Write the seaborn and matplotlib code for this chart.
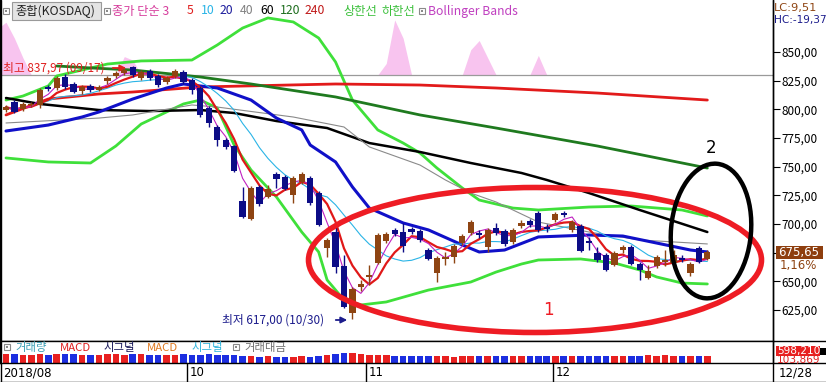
import numpy as np
import pandas as pd
import matplotlib
matplotlib.use("Agg")
import matplotlib.pyplot as plt
import seaborn as sns
from matplotlib.patches import Ellipse, Rectangle, FancyArrowPatch
from matplotlib.lines import Line2D
from matplotlib.transforms import IdentityTransform

# ---------------- data (KOSDAQ daily, 2018-08-27 .. 2018-12-28) ----------------
opens = [799.4, 806.4, 800.3, 803.8, 803.8, 819.5, 818.6, 828.2, 822.1, 816.0,
         820.4, 816.9, 824.7, 829.1, 831.7, 836.9, 827.3, 833.4, 829.1, 823.8,
         829.1, 832.6, 825.6, 818.6, 801.2, 784.6, 773.3, 768.0, 720.1, 704.4,
         732.3, 723.6, 743.6, 741.0, 725.3, 736.6, 740.1, 727.0, 679.1, 693.0,
         663.4, 622.4, 645.1, 653.8, 666.0, 685.2, 694.8, 693.0, 695.6, 693.9,
         677.3, 657.3, 669.5, 671.2, 683.4, 692.2, 692.2, 679.9, 696.5, 693.9,
         684.3, 698.3, 702.6, 709.6, 697.4, 703.5, 709.6, 694.8, 698.3, 685.2,
         674.7, 673.0, 664.2, 677.3, 679.9, 665.1, 652.9, 663.4, 666.9, 666.0,
         670.4, 657.3, 679.1, 669.5]
highs = [803.8, 808.1, 806.4, 806.4, 818.6, 821.2, 829.1, 830.8, 823.8, 821.2,
         822.1, 821.2, 829.1, 833.4, 836.1, 837.97, 834.3, 835.2, 830.8, 829.1,
         835.2, 834.3, 827.3, 820.4, 802.9, 786.3, 775.0, 768.9, 732.3, 733.1,
         734.0, 734.0, 745.4, 742.7, 741.9, 745.4, 741.9, 728.8, 687.8, 699.1,
         673.0, 645.1, 651.2, 664.2, 692.2, 693.0, 696.5, 700.9, 697.4, 695.6,
         679.1, 672.1, 675.6, 682.6, 691.3, 703.5, 694.8, 696.5, 700.9, 695.6,
         696.5, 703.5, 704.4, 711.3, 700.0, 710.5, 711.3, 703.5, 700.0, 688.7,
         679.9, 674.7, 676.5, 681.7, 681.7, 666.9, 664.2, 673.0, 677.3, 677.3,
         673.0, 666.9, 680.8, 677.3]
lows = [797.7, 796.8, 798.6, 802.0, 801.2, 816.0, 816.9, 817.7, 814.2, 813.4,
        815.1, 816.0, 822.1, 827.3, 829.9, 828.2, 825.6, 825.6, 819.5, 822.1,
        827.3, 822.1, 813.4, 793.3, 784.6, 768.0, 765.4, 745.4, 705.2, 703.5,
        715.7, 722.7, 731.4, 729.7, 718.3, 734.9, 716.6, 698.3, 671.2, 657.3,
        626.8, 617.0, 641.6, 646.8, 665.1, 683.4, 689.5, 675.6, 691.3, 684.3,
        668.6, 649.4, 664.2, 666.0, 681.7, 690.4, 687.8, 675.6, 690.4, 680.8,
        682.6, 696.5, 697.4, 693.0, 693.0, 701.7, 706.1, 693.0, 675.6, 677.3,
        666.9, 659.0, 663.4, 674.7, 664.2, 651.2, 652.0, 661.6, 663.4, 664.2,
        666.9, 654.7, 666.0, 668.6]
closes = [802.0, 797.7, 804.7, 804.7, 816.9, 817.7, 827.3, 819.5, 815.1, 819.5,
          816.9, 819.5, 827.3, 831.7, 834.3, 829.9, 832.6, 827.3, 821.2, 827.3,
          833.4, 823.8, 816.9, 795.1, 788.1, 773.3, 767.2, 746.2, 706.1, 731.4,
          717.4, 730.5, 739.2, 730.5, 740.1, 743.6, 718.3, 699.1, 686.1, 662.5,
          627.6, 643.3, 647.7, 655.5, 690.4, 691.3, 691.3, 680.8, 693.0, 686.1,
          669.5, 670.4, 671.2, 680.8, 689.5, 701.7, 690.4, 694.8, 692.2, 682.6,
          694.8, 700.9, 699.1, 694.8, 695.6, 708.7, 707.9, 701.7, 676.5, 683.4,
          668.6, 659.9, 674.7, 679.9, 665.1, 659.9, 659.0, 671.2, 668.6, 673.0,
          668.6, 665.1, 666.9, 675.65]
volumes = [780, 760, 730, 700, 800, 720, 780, 740, 760, 700, 690, 700, 740, 760, 700,
           780, 760, 720, 700, 690, 720, 760,
           700, 720, 760, 700, 680, 720, 640, 600, 560, 580, 560, 540, 560, 580, 560,
           620, 700, 820, 880, 860, 780,
           720, 700, 660, 620, 640, 600, 580, 620, 600, 580, 560, 600, 620, 580, 640,
           620, 600, 620, 640, 580, 600, 620,
           600, 640, 620, 600, 640, 620, 600, 580, 640, 620, 600, 680, 640, 660, 600,
           620, 580, 600, 598]

# long moving averages / Bollinger bands (candle index, value)
ma20_idx = [0, 5, 9, 11, 15, 19, 21, 25, 29, 32, 35, 36, 39, 41, 43, 47, 50, 54, 56, 59, 63, 69, 73, 77, 81, 83]
ma20_val = [781.1, 786.3, 793.3, 797.7, 809.0, 818.6, 822.1, 818.6, 808.1, 792.4, 782.0, 768.9, 754.1,
            732.3, 713.9, 700.9, 694.8, 681.7, 675.6, 677.3, 688.7, 690.4, 689.5, 683.4, 677.3, 675.6]
ma40_idx = [0, 11, 15, 22, 25, 34, 40, 43, 49, 52, 55, 58, 63, 69, 75, 83]
ma40_val = [788.1, 792.4, 795.1, 803.8, 802.0, 793.3, 784.6, 767.2, 751.4, 738.4, 727.0, 719.2,
            701.7, 693.0, 686.1, 682.6]
ma60_idx = [0, 4, 11, 17, 23, 27, 32, 38, 43, 49, 55, 61, 64, 69, 75, 83]
ma60_val = [809.9, 804.7, 799.4, 798.5, 799.4, 796.8, 789.8, 783.7, 770.6, 762.8, 753.2, 744.5,
            738.4, 727.0, 712.2, 693.0]
ma120_idx = [6, 10, 15, 23, 29, 39, 49, 58, 70, 83]
ma120_val = [837.8, 836.1, 834.3, 828.2, 822.1, 810.8, 795.1, 783.7, 768.0, 748.8]
ma240_idx = [0, 5, 11, 15, 23, 39, 49, 58, 70, 83]
ma240_val = [795.1, 809.0, 813.4, 815.1, 819.5, 822.1, 821.2, 818.6, 814.2, 808.1]
bbu_idx = [0, 2, 5, 6, 9, 12, 16, 22, 25, 28, 31, 34, 37, 39, 41, 44, 47, 49, 51, 54, 56, 60, 63,
           69, 74, 80, 83]
bbu_val = [808.1, 811.6, 820.4, 829.1, 834.3, 839.5, 842.2, 843.0, 856.1, 870.9, 879.7, 876.2,
           862.2, 841.3, 808.1, 782.0, 770.6, 761.9, 748.8, 731.4, 720.9, 713.9, 712.2, 714.8,
           715.7, 712.2, 707.0]
bbl_idx = [0, 5, 10, 13, 16, 21, 23, 25, 27, 29, 32, 35, 37, 38, 40, 42, 45, 50, 55, 58, 61, 63,
           68, 72, 75, 77, 80, 83]
bbl_val = [757.6, 754.1, 753.2, 768.0, 787.2, 804.7, 808.1, 801.2, 768.9, 747.1, 723.6, 693.0,
           675.6, 651.2, 633.7, 629.4, 632.0, 642.4, 649.4, 658.1, 665.1, 668.6, 669.5, 666.0,
           659.9, 653.8, 648.5, 647.7]
pink_idx = [-0.7, 0, 1, 2, 3, 13, 14, 15, 16, 44, 45, 46, 47, 48, 54, 55, 56, 57, 58, 62, 63, 64]
pink_val = [872, 876, 862, 845, 830, 830, 846, 843, 830, 830, 840, 878, 862, 830, 830, 852, 860,
            845, 830, 830, 847, 830]
ref_line = 830.0
price_ticks = [625, 650, 675, 700, 725, 750, 775, 800, 825, 850]
date_labels = ["2018/08", "10", "11", "12", "12/28"]
last_close_label = "675,65"
change_label = "1,16%"
vol_labels = ["598,210", "103,869"]

# ---------------- style ----------------
sns.set_theme(style="white")
plt.rcParams['font.family'] = ['Noto Sans CJK KR', 'DejaVu Sans']
plt.rcParams['axes.unicode_minus'] = False

BROWN = "#8e4412"
NAVY = "#0c0c86"
W, H = 826, 382
fig = plt.figure(figsize=(W / 100, H / 100), dpi=100)
fig.patch.set_facecolor("white")


def fx(x):
    return x / W


def fy(y):
    return 1 - y / H


ax = fig.add_axes([0, fy(341), fx(773), 341 / H])
axv = fig.add_axes([0, fy(363), fx(773), 22 / H])

n = len(closes)
idx = np.arange(n)
o = np.array(opens); c = np.array(closes)
up = c >= o
ccol = np.where(up, BROWN, NAVY)

# pink area + reference line
ax.fill_between(pink_idx, ref_line, pink_val, color="#f8c4ef", lw=0, zorder=0.5)
ax.axhline(ref_line, color="#9a9a9a", lw=0.9, zorder=1)

# lines
cs = pd.Series(closes)
ma3 = cs.rolling(3, min_periods=1).mean()
ma5 = cs.rolling(5, min_periods=1).mean()
ma10 = cs.rolling(10, min_periods=1).mean()

line_specs = [
    (bbu_idx, bbu_val, "#3fe03a", 2.0),
    (bbl_idx, bbl_val, "#3fe03a", 2.0),
    (ma240_idx, ma240_val, "#e21a1a", 2.0),
    (ma120_idx, ma120_val, "#1f7a1f", 2.0),
    (ma60_idx, ma60_val, "#000000", 1.8),
    (ma40_idx, ma40_val, "#8a8a8a", 0.8),
    (ma20_idx, ma20_val, "#1010c8", 2.2),
    (list(idx), list(ma10), "#2ab4e6", 0.8),
    (list(idx), list(ma5), "#e01818", 1.6),
    (list(idx), list(ma3), "#c020c0", 0.8),
]
for xs, ys, colr, lw in line_specs:
    sns.lineplot(x=xs, y=ys, ax=ax, color=colr, linewidth=lw, estimator=None,
                 sort=False, legend=False, zorder=2)

# candles
ax.vlines(idx, lows, highs, colors=ccol, lw=1.0, zorder=3)
body_lo = np.minimum(o, c)
body_h = np.maximum(np.abs(c - o), 1.0)
ax.bar(idx, body_h, bottom=body_lo, width=0.74, color=ccol, linewidth=0, zorder=4)

ax.set_xlim(-0.71, 90.77)
ax.set_ylim(597.96, 895.35)
ax.set_xlabel(""); ax.set_ylabel("")
ax.set_xticks([])
ax.yaxis.tick_right()
ax.set_yticks(price_ticks)
# the 675 label sits under the last-price box in the reference
ax.set_yticklabels(["" if v == 675 else f"{v},00" for v in price_ticks])
ax.tick_params(axis="y", direction="out", length=5, width=0.8, pad=1, labelsize=8.5,
               colors="black", right=True, left=False)
for s in ["left", "right", "bottom"]:
    ax.spines[s].set_visible(True)
    ax.spines[s].set_color("black")
    ax.spines[s].set_linewidth(1.0)
ax.spines["top"].set_visible(False)
ax.grid(False)

# volume panel
vcol = np.where(up, "#e82020", "#1c2ee0")
axv.bar(idx, volumes, width=0.78, color=vcol, linewidth=0)
axv.set_xlim(-0.71, 90.77)
axv.set_ylim(0, 1900)
axv.set_xticks([]); axv.set_yticks([])
axv.set_xlabel(""); axv.set_ylabel("")
for s in ["top", "bottom"]:
    axv.spines[s].set_visible(False)
for s in ["left", "right"]:
    axv.spines[s].set_color("black"); axv.spines[s].set_linewidth(1.0)
axv.grid(False)

# frame lines
def hline(y, x0=0, x1=W, color="black", lw=1.0):
    fig.add_artist(Line2D([fx(x0), fx(x1)], [fy(y), fy(y)], color=color, lw=lw,
                          transform=fig.transFigure))


def vline(x, y0, y1, color="black", lw=1.0):
    fig.add_artist(Line2D([fx(x), fx(x)], [fy(y0), fy(y1)], color=color, lw=lw,
                          transform=fig.transFigure))


hline(341); hline(363); hline(381.5)
vline(0.5, 0, 382); vline(773, 0, 382)
for xs in [187, 366, 553]:
    vline(xs, 363, 382)

# date labels
for xpos, lab in zip([3, 190, 369, 556, 779], date_labels):
    fig.text(fx(xpos), fy(372.5), lab, fontsize=8.5, va="center", ha="left", color="black",
             family=["DejaVu Sans"])

# top legend
def icon(x, y):
    fig.add_artist(Rectangle((x, H - y - 6), 6, 6, transform=IdentityTransform(),
                             facecolor="white", edgecolor="#8a8a8a", lw=0.8))
    fig.add_artist(Rectangle((x + 2, H - y - 4), 2, 2, transform=IdentityTransform(),
                             facecolor="#8a8a8a", edgecolor="none"))


icon(3, 8)
fig.add_artist(Rectangle((12, H - 20), 89, 18, transform=IdentityTransform(),
                         facecolor="#e4e4e4", edgecolor="#9a9a9a", lw=0.8))
fig.text(fx(15), fy(11), "종합(KOSDAQ)", fontsize=8.8, va="center", color="#222222")
icon(104, 8)
legend_items = [(112, "종가 단순 3", "#d63c9c"), (187, "5", "#e02020"), (201, "10", "#2ab4e6"),
                (220, "20", "#1c1c9c"), (240, "40", "#808080"), (260, "60", "#000000"),
                (280, "120", "#1e6e1e"), (305, "240", "#c01818"), (343, "상한선", "#3cc03c"),
                (382, "하한선", "#3cc03c"), (428, "Bollinger Bands", "#c040c0")]
for xpos, txt, colr in legend_items:
    fig.text(fx(xpos), fy(11), txt, fontsize=8.8, va="center", color=colr)
icon(419, 8)

# volume legend
icon(4, 344)
vol_items = [(15, "거래량", "#3a9eb4"), (60, "MACD", "#e02020"), (104, "시그널", "#1c1c5c"),
             (147, "MACD", "#e07a20"), (192, "시그널", "#30b4dc"), (244, "거래대금", "#707070")]
for xpos, txt, colr in vol_items:
    fig.text(fx(xpos), fy(348), txt, fontsize=8.2, va="center", color=colr)
icon(233, 344)

# right side labels
fig.text(fx(774), fy(8), "LC:9,51", fontsize=8.2, va="center", color="#8e4412",
         family=["DejaVu Sans"])
fig.text(fx(774), fy(20), "HC:-19,37", fontsize=7.6, va="center", color="#1c1c8c",
         family=["DejaVu Sans"])
fig.add_artist(Rectangle((776, H - 259), 47, 13, transform=IdentityTransform(),
                         facecolor="#8e3e0e", edgecolor="none"))
fig.text(fx(778), fy(252.5), last_close_label, fontsize=8.5, va="center", color="white",
         family=["DejaVu Sans"])
fig.text(fx(780), fy(266), change_label, fontsize=8.5, va="center", color="#8e4412",
         family=["DejaVu Sans"])
fig.add_artist(Rectangle((776, H - 356), 44, 10, transform=IdentityTransform(),
                         facecolor="#e82020", edgecolor="none"))
fig.text(fx(777), fy(351), vol_labels[0], fontsize=7.6, va="center", color="white",
         family=["DejaVu Sans"])
fig.text(fx(777), fy(360.5), vol_labels[1], fontsize=7.6, va="center", color="#e02020",
         family=["DejaVu Sans"])
fig.add_artist(Rectangle((820, H - 355), 6, 7, transform=IdentityTransform(),
                         facecolor="black", edgecolor="none"))

# high / low annotations
fig.text(fx(3), fy(68), "최고 837,97 (09/17)", fontsize=8.5, va="center", color="#e02020")
fig.add_artist(FancyArrowPatch((110, H - 68), (129, H - 68), transform=IdentityTransform(),
                               arrowstyle="-|>", mutation_scale=9, color="#e02020", lw=1.3))
fig.text(fx(222), fy(320), "최저 617,00 (10/30)", fontsize=8.5, va="center", color="#1c1c8c")
fig.add_artist(FancyArrowPatch((333, H - 320), (350, H - 320), transform=IdentityTransform(),
                               arrowstyle="-|>", mutation_scale=9, color="#1c1c8c", lw=1.3))

# hand-drawn ellipses and labels
fig.add_artist(Ellipse((535, H - 260), 453, 145, angle=0, transform=IdentityTransform(),
                       fill=False, edgecolor="#ee1c24", lw=4.0, zorder=10))
fig.add_artist(Ellipse((711, H - 231), 80, 135, angle=-5, transform=IdentityTransform(),
                       fill=False, edgecolor="black", lw=3.2, zorder=10))
fig.text(fx(548), fy(310), "1", fontsize=12, va="center", ha="center", color="#ee1c24",
         family=["DejaVu Sans"])
fig.text(fx(711), fy(148), "2", fontsize=12, va="center", ha="center", color="black",
         family=["DejaVu Sans"])

fig.savefig("out.png", dpi=100)
